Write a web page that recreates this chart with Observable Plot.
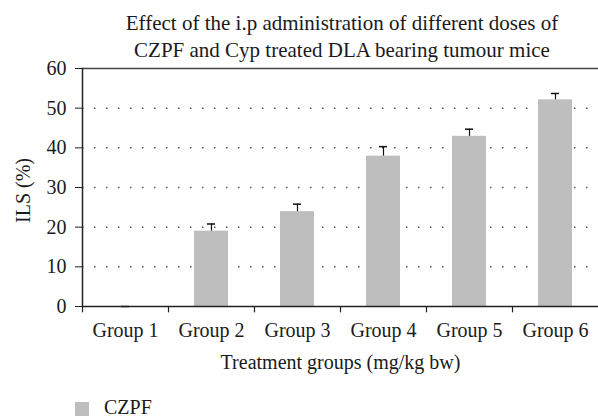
<!DOCTYPE html>
<html>
<head>
<meta charset="utf-8">
<script src="https://cdn.jsdelivr.net/npm/d3@7"></script>
<script src="https://cdn.jsdelivr.net/npm/@observablehq/plot@0.6"></script>
<style>
  html, body { margin: 0; padding: 0; background: #fff; }
  body { position: relative; width: 598px; height: 419px; overflow: hidden; font-family: "Liberation Serif", serif; color: #1a1a1a; }
  #title { position: absolute; left: 0; top: 0; width: 598px; box-sizing: border-box; padding-top: 10px; padding-left: 86px; text-align: center; font-size: 21px; line-height: 27px; white-space: nowrap; z-index: 2; }
  #chart { position: absolute; left: 0; top: 0; }
  #legend { position: absolute; left: 0; top: 0; width: 598px; height: 419px; pointer-events: none; }
  #legend .sw { position: absolute; left: 75px; top: 402px; width: 14px; height: 14px; background: #bebebe; }
  #legend .lb { position: absolute; left: 104px; top: 397px; font-size: 20px; line-height: 20px; }
  svg { display: block; }
</style>
</head>
<body>
<div id="chart"></div>
<div id="title">Effect of the i.p administration of different doses of<br>CZPF and Cyp treated DLA bearing tumour mice</div>
<div id="legend"><div class="sw"></div><div class="lb">CZPF</div></div>
<script>
const groups = ["Group 1", "Group 2", "Group 3", "Group 4", "Group 5", "Group 6"];
const values = [0, 19.0, 23.9, 37.9, 42.9, 52.1];
const errors = [0, 1.8, 1.9, 2.4, 1.8, 1.6];
const yTicks = [0, 10, 20, 30, 40, 50, 60];
const gridTicks = [10, 20, 30, 40, 50];
const seriesName = "CZPF";

const data = groups.map((g, i) => ({group: g, value: values[i], err: errors[i], top: values[i] + errors[i]}));

const W = 598, ML = 82, MR = 0;
const step = (W - ML - MR) / groups.length;

const chart = Plot.plot({
  width: W,
  height: 385,
  marginTop: 68,
  marginBottom: 79,
  marginLeft: ML,
  marginRight: MR,
  style: {fontFamily: "Liberation Serif", fontSize: "20px", color: "#1a1a1a", background: "#fff", overflow: "visible"},
  x: {domain: groups, paddingInner: 0.6, paddingOuter: 0.3, label: null},
  y: {domain: [0, 60], label: null},
  marks: [
    Plot.ruleY(gridTicks, {stroke: "#555", strokeWidth: 1.5, strokeDasharray: "1.5 10.5", strokeDashoffset: 0}),
    Plot.barY(data, {x: "group", y: "value", fill: "#bebebe"}),
    Plot.ruleX(data, {x: "group", y1: "value", y2: "top", stroke: "#111", strokeWidth: 1.2}),
    Plot.tickY(data, {x: "group", y: "top", stroke: "#111", strokeWidth: 1.5, insetLeft: 13, insetRight: 13}),
    Plot.ruleY([0], {stroke: "#222", strokeWidth: 1.5}),
    Plot.ruleY([60], {stroke: "#444", strokeWidth: 1.5}),
    Plot.ruleX(groups, {x: d => d, dx: -step / 2, y1: 0, y2: -1.6, stroke: "#222", strokeWidth: 1.2}),
    Plot.frame({anchor: "left", stroke: "#222", strokeWidth: 1.5}),
    Plot.axisY({ticks: yTicks, tickSize: 7, tickPadding: 9, label: null, stroke: "#222", tickFormat: d => String(d)}),
    Plot.axisX({tickSize: 0, tickPadding: 16, label: null}),
    Plot.text(["Treatment groups (mg/kg bw)"], {frameAnchor: "bottom", lineAnchor: "middle", textAnchor: "middle", dy: 56, text: d => d, fill: "#1a1a1a"}),
    Plot.text(["ILS (%)"], {frameAnchor: "left", lineAnchor: "middle", textAnchor: "middle", dx: -59, dy: 3, rotate: -90, text: d => d, fill: "#1a1a1a"})
  ]
});
document.getElementById("chart").appendChild(chart);
document.querySelector("#legend .lb").textContent = seriesName;
</script>
</body>
</html>
